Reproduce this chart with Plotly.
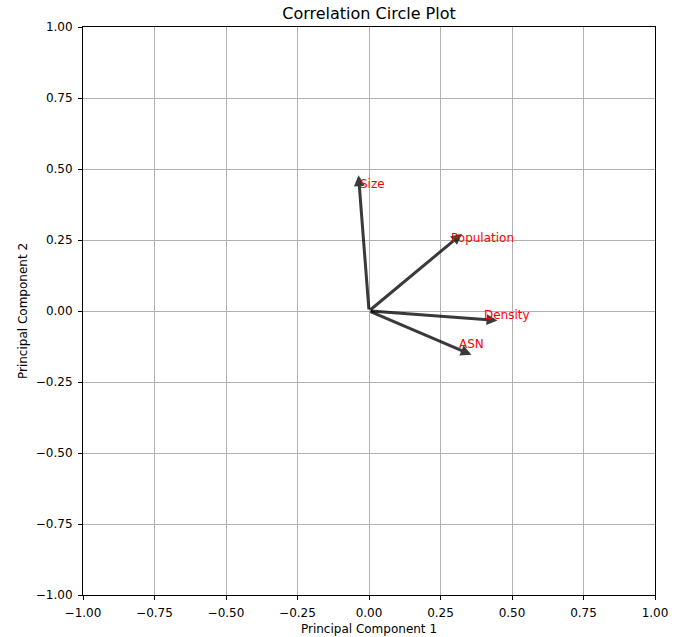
import numpy as np
import plotly.graph_objects as go

variables = ["Size", "Population", "Density", "ASN"]
pc1 = [-0.033, 0.288, 0.401, 0.314]
pc2 = [0.430, 0.241, -0.030, -0.135]
tick_vals = [-1.0, -0.75, -0.5, -0.25, 0.0, 0.25, 0.5, 0.75, 1.0]

head_len = 0.048
FONT = "DejaVu Sans"

fig = go.Figure()
# invisible trace to establish axes
fig.add_trace(go.Scatter(x=[0], y=[0], mode="markers", marker=dict(opacity=0), showlegend=False, hoverinfo="skip"))

annotations = []
for name, x, y in zip(variables, pc1, pc2):
    r = np.hypot(x, y)
    tx, ty = x + head_len * x / r, y + head_len * y / r
    annotations.append(dict(
        x=tx, y=ty, ax=0, ay=0, xref="x", yref="y", axref="x", ayref="y",
        showarrow=True, arrowhead=2, arrowsize=0.72, arrowwidth=3,
        arrowcolor="rgba(0,0,0,0.77)", text="", standoff=0, startstandoff=0,
    ))
    annotations.append(dict(
        x=x, y=y, xref="x", yref="y", text=name, showarrow=False,
        xanchor="left", yanchor="bottom", yshift=-4, xshift=-2,
        font=dict(color="red", size=12, family=FONT),
    ))

axis_common = dict(
    range=[-1, 1], tickvals=tick_vals, tickformat=".2f",
    showgrid=True, gridcolor="#b0b0b0", gridwidth=1, zeroline=False,
    showline=True, linecolor="black", linewidth=1, mirror=True,
    ticks="outside", ticklen=4, tickcolor="black", tickwidth=1,
    tickfont=dict(size=12, color="black", family=FONT),
    ticklabelstandoff=3,
    automargin=False,
)

fig.update_layout(
    width=686, height=637,
    margin=dict(l=83, r=31, t=27, b=42),
    paper_bgcolor="white", plot_bgcolor="white",
    font=dict(family=FONT, color="black"),
    title=dict(text="Correlation Circle Plot", x=369 / 686,
               xanchor="center", y=1 - 13.5 / 637, yanchor="middle",
               font=dict(size=16, color="black", family=FONT)),
    xaxis=dict(**axis_common, title=dict(text="Principal Component 1", standoff=5,
                                          font=dict(size=12, color="black", family=FONT))),
    yaxis=dict(**axis_common, title=dict(text="Principal Component 2", standoff=5,
                                          font=dict(size=12, color="black", family=FONT))),
    annotations=annotations,
    showlegend=False,
)

fig.write_html("out.html")
